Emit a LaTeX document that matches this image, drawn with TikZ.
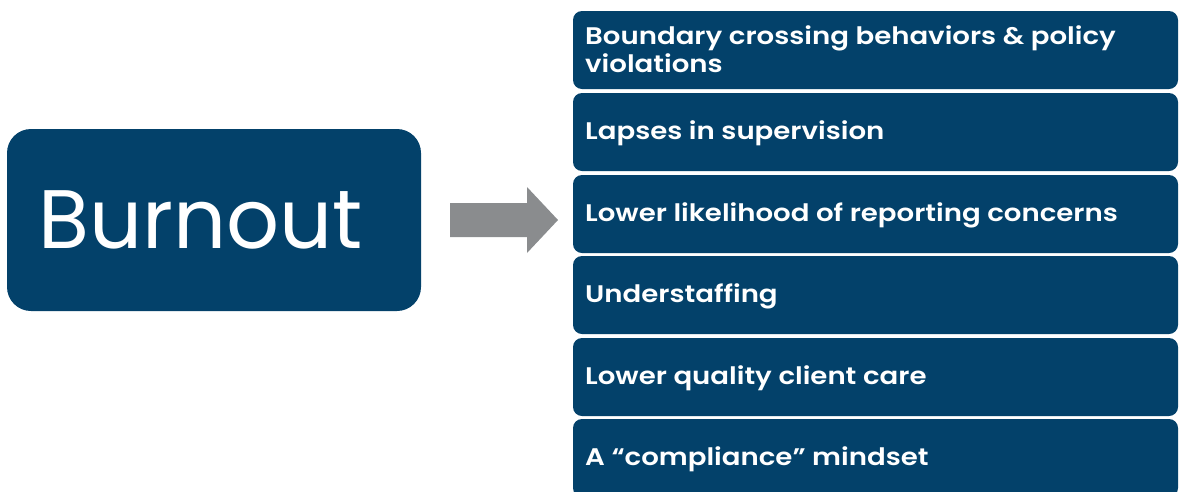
\documentclass[tikz,border=0pt]{standalone}
\usepackage{fontspec}
\setmainfont{Poppins}
\newfontfamily\semi[FakeStretch=1.15]{Poppins SemiBold}
\definecolor{navy}{RGB}{3,65,106}
\definecolor{arrowgray}{RGB}{138,140,142}
\begin{document}
\begin{tikzpicture}[x=1pt,y=-1pt,
  bigbox/.style={fill=navy, rounded corners=24pt},
  itembox/.style={fill=navy, rounded corners=9pt},
  itemtext/.style={text=white, anchor=base west, font=\semi\fontsize{24}{29}\selectfont, inner sep=0pt},
]
\useasboundingbox (0,0) rectangle (1179,491);
\clip (0,0) rectangle (1179,491);
% Burnout box
\fill[bigbox] (7,129) rectangle (421,311);
\node[text=white, font=\fontsize{83}{92}\selectfont, anchor=base west, inner sep=0pt] (burn) at (38,248) {Burnout};
% block arrow
\fill[arrowgray] (450,203) -- (527,203) -- (527,187) -- (558,220) -- (527,253) -- (527,237) -- (450,237) -- cycle;
% item boxes
\foreach \i/\y in {1/11, 2/93, 3/175, 4/256, 5/338, 6/419}{
  \fill[itembox] (573,\y) rectangle (1178,\y+78);
}
\node[itemtext] (t1) at (585,44) {Boundary crossing behaviors \& policy};
\node[itemtext] (t1b) at (585,72) {violations};
\node[itemtext] (t2) at (585,139) {Lapses in supervision};
\node[itemtext] (t3) at (585,221) {Lower likelihood of reporting concerns};
\node[itemtext] (t4) at (585,302) {Understaffing};
\node[itemtext] (t5) at (585,384) {Lower quality client care};
\node[itemtext] (t6) at (585,465) {A “compliance” mindset};
\end{tikzpicture}
\end{document}
